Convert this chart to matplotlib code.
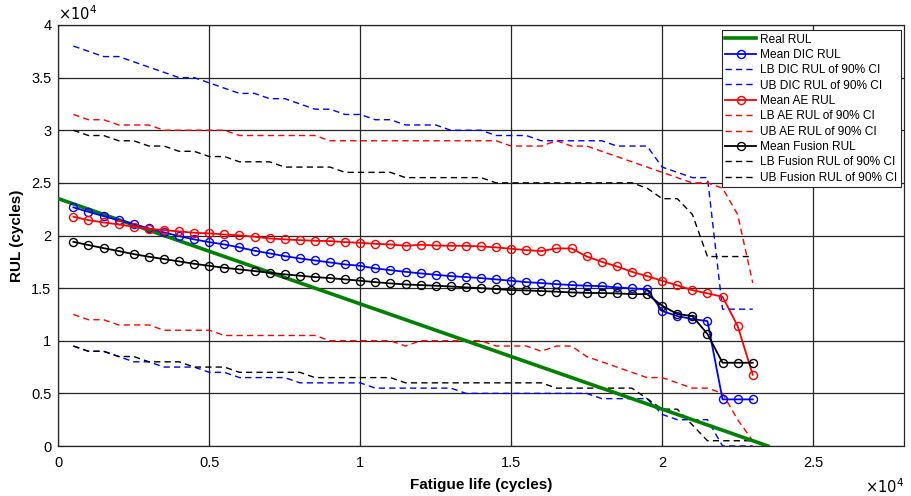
import numpy as np
import matplotlib
matplotlib.use("Agg")
import matplotlib.pyplot as plt
from matplotlib.ticker import FuncFormatter, MultipleLocator

plt.rcParams['font.family'] = ['Liberation Sans', 'DejaVu Sans']

# ---- data (cycles) ----
fatigue_life = [500 * k for k in range(1, 47)]

real_x = [0, 23500]
real_rul = [23500, 0]

mean_dic = [22670, 22250, 21840, 21460, 21080, 20670, 20290, 19940, 19630, 19370,
            19150, 18870, 18550, 18300, 18040, 17820, 17630, 17440, 17250, 17120,
            16870, 16710, 16550, 16400, 16270, 16140, 16050, 15950, 15830, 15700,
            15570, 15480, 15380, 15290, 15230, 15190, 15070, 14970, 14880, 12820,
            12350, 12060, 11870, 4430, 4430, 4430]
lb_dic = [9500, 9000, 9000, 8500, 8000, 8000, 7500, 7500, 7500, 7000,
          7000, 6500, 6500, 6500, 6500, 6000, 6000, 6000, 6000, 6000,
          5500, 5500, 5500, 5500, 5500, 5500, 5000, 5000, 5000, 5000,
          5000, 5000, 5000, 5000, 5000, 4500, 4500, 4500, 4500, 3000,
          2500, 2500, 2500, 0, 0, 0]
ub_dic = [38000, 37500, 37000, 37000, 36500, 36000, 35500, 35000, 35000, 34500,
          34000, 33500, 33500, 33000, 33000, 32500, 32000, 32000, 31500, 31500,
          31000, 31000, 30500, 30500, 30500, 30000, 30000, 30000, 29500, 29500,
          29500, 29000, 29000, 29000, 29000, 29000, 28500, 28500, 28500, 26500,
          26000, 25500, 25500, 13000, 13000, 13000]

mean_ae = [21780, 21460, 21240, 21050, 20830, 20640, 20510, 20390, 20260, 20200,
           20100, 20010, 19880, 19720, 19630, 19560, 19500, 19470, 19370, 19310,
           19210, 19150, 19020, 19120, 19050, 19020, 19020, 18960, 18870, 18740,
           18610, 18520, 18770, 18770, 18010, 17500, 17060, 16550, 16140, 15700,
           15260, 14810, 14500, 14180, 11400, 6770]
lb_ae = [12500, 12000, 12000, 11500, 11500, 11500, 11000, 11000, 11000, 11000,
         10500, 10500, 10500, 10500, 10500, 10500, 10500, 10000, 10000, 10000,
         10000, 10000, 9500, 10000, 10000, 10000, 10000, 10000, 9500, 9500,
         9500, 9000, 9500, 9500, 8500, 8000, 7500, 7000, 6500, 6500,
         6000, 5500, 5500, 5000, 2500, 500]
ub_ae = [31500, 31000, 31000, 30500, 30500, 30500, 30000, 30000, 30000, 30000,
         30000, 29500, 29500, 29500, 29500, 29500, 29500, 29000, 29000, 29000,
         29000, 29000, 29000, 29000, 29000, 29000, 29000, 29000, 29000, 28500,
         28500, 28500, 29000, 28500, 28500, 28000, 27500, 27000, 26500, 26000,
         25500, 25000, 25000, 24500, 22000, 15500]

mean_fusion = [19400, 19090, 18800, 18520, 18230, 17980, 17760, 17540, 17310, 17120,
               16930, 16780, 16620, 16460, 16310, 16180, 16050, 15950, 15830, 15700,
               15570, 15450, 15350, 15290, 15230, 15160, 15070, 15000, 14910, 14810,
               14780, 14720, 14660, 14590, 14550, 14530, 14500, 14430, 14430, 13330,
               12540, 12350, 10640, 7910, 7910, 7910]
lb_fusion = [9500, 9000, 9000, 8500, 8500, 8000, 8000, 8000, 7500, 7500,
             7500, 7000, 7000, 7000, 7000, 7000, 6500, 6500, 6500, 6500,
             6500, 6500, 6000, 6000, 6000, 6000, 6000, 6000, 6000, 6000,
             6000, 6000, 5500, 5500, 5500, 5500, 5500, 5500, 4500, 3500,
             3500, 2000, 500, 500, 500, 500]
ub_fusion = [30000, 29500, 29500, 29000, 29000, 28500, 28500, 28000, 28000, 27500,
             27500, 27000, 27000, 27000, 26500, 26500, 26500, 26500, 26000, 26000,
             26000, 26000, 25500, 25500, 25500, 25500, 25500, 25500, 25000, 25000,
             25000, 25000, 25000, 25000, 25000, 25000, 25000, 25000, 24500, 23500,
             23500, 22000, 18000, 18000, 18000, 18000]

x_ticks = [0, 5000, 10000, 15000, 20000, 25000]
y_ticks = [0, 5000, 10000, 15000, 20000, 25000, 30000, 35000, 40000]

# ---- figure ----
fig = plt.figure(figsize=(9.11, 4.96), dpi=100)
ax = fig.add_axes([0.064, 0.1008, 0.928, 0.8488])

dash = (4.5, 3.0)
ms = 5.8
mlw = 1.3

ax.plot(real_x, real_rul, color='#008000', lw=2.6, label='Real RUL', zorder=3)

ax.plot(fatigue_life, mean_dic, color='#0000ff', lw=mlw, marker='o', ms=ms,
        mfc='none', mew=1.0, label='Mean DIC RUL', zorder=4)
ax.plot(fatigue_life, lb_dic, color='#0000ff', lw=1.0, dashes=dash, label='LB DIC RUL of 90% CI')
ax.plot(fatigue_life, ub_dic, color='#0000ff', lw=1.0, dashes=dash, label='UB DIC RUL of 90% CI')

ax.plot(fatigue_life, mean_ae, color='#ff0000', lw=mlw, marker='o', ms=ms,
        mfc='none', mew=1.0, label='Mean AE RUL', zorder=4)
ax.plot(fatigue_life, lb_ae, color='#ff0000', lw=1.0, dashes=dash, label='LB AE RUL of 90% CI')
ax.plot(fatigue_life, ub_ae, color='#ff0000', lw=1.0, dashes=dash, label='UB AE RUL of 90% CI')

ax.plot(fatigue_life, mean_fusion, color='#000000', lw=mlw, marker='o', ms=ms,
        mfc='none', mew=1.0, label='Mean Fusion RUL', zorder=4)
ax.plot(fatigue_life, lb_fusion, color='#000000', lw=1.0, dashes=dash, label='LB Fusion RUL of 90% CI')
ax.plot(fatigue_life, ub_fusion, color='#000000', lw=1.0, dashes=dash, label='UB Fusion RUL of 90% CI')

ax.set_xlim(0, 28000)
ax.set_ylim(0, 40000)
ax.set_xticks(x_ticks)
ax.set_yticks(y_ticks)
fmt = FuncFormatter(lambda v, p: '%g' % (v / 1e4))
ax.xaxis.set_major_formatter(fmt)
ax.yaxis.set_major_formatter(fmt)
ax.tick_params(direction='in', labelsize=10.5, length=4, width=0.8, colors='#262626',
               labelcolor='black')
ax.tick_params(axis='x', pad=7)
ax.tick_params(axis='y', pad=5)
ax.grid(True, color='#262626', lw=0.9)
ax.set_axisbelow(True)
for s in ax.spines.values():
    s.set_color('#262626')
    s.set_linewidth(0.9)

ax.set_xlabel('Fatigue life (cycles)', fontsize=11, fontweight='bold', labelpad=6)
ax.set_ylabel('RUL (cycles)', fontsize=11, fontweight='bold', labelpad=5)

ax.text(0.0, 1.005, r'$\times10^{4}$', transform=ax.transAxes, fontsize=10.5,
        ha='left', va='bottom')
ax.text(1.0, -0.075, r'$\times10^{4}$', transform=ax.transAxes, fontsize=10.5,
        ha='right', va='top')

leg = ax.legend(loc='upper right', bbox_to_anchor=(0.9965, 0.988), fontsize=8.6,
                handlelength=2.6, handletextpad=0.3, labelspacing=0.28,
                borderpad=0.3, borderaxespad=0.0, fancybox=False, framealpha=1,
                edgecolor='#262626')
leg.get_frame().set_linewidth(0.8)

fig.savefig('out.png', dpi=100)
